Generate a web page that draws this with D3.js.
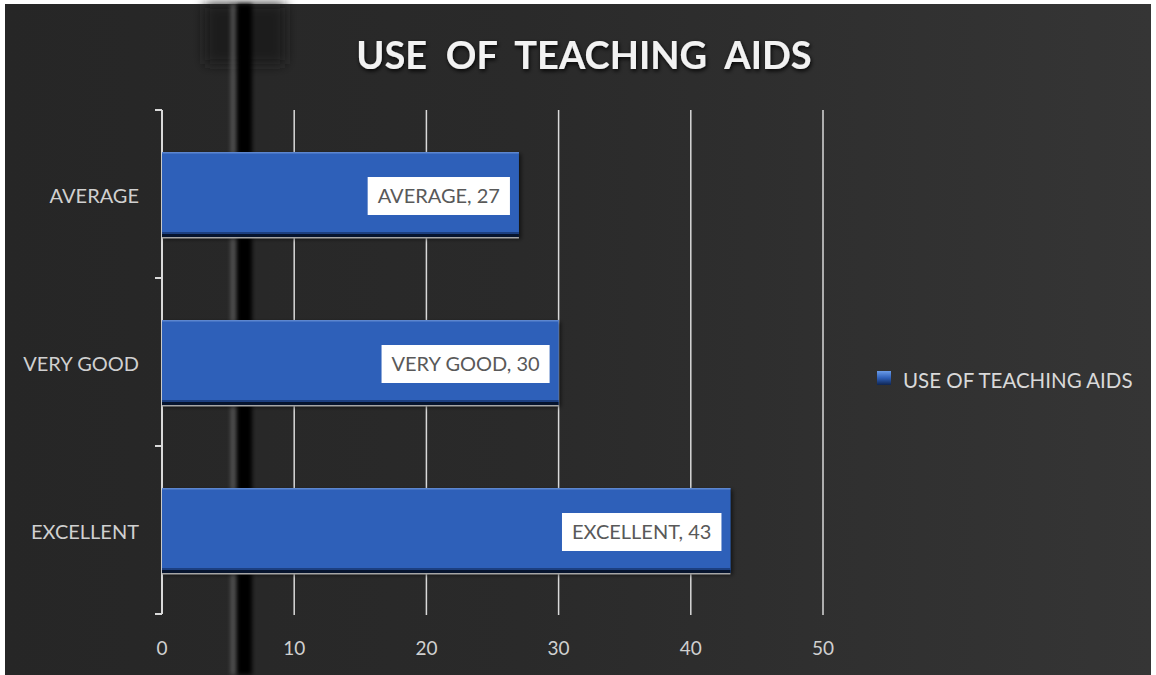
<!DOCTYPE html>
<html>
<head>
<meta charset="utf-8">
<script src="https://cdn.jsdelivr.net/npm/d3@7"></script>
<style>
  body { margin: 0; background: #fff; }
  svg { display: block; }
  text { font-family: Lato, "Open Sans", sans-serif; }
</style>
</head>
<body>
<svg width="1156" height="675"></svg>
<script>
var categories = ['AVERAGE', 'VERY GOOD', 'EXCELLENT'];
var values = [27, 30, 43];
var xTicks = [0, 10, 20, 30, 40, 50];
var seriesName = 'USE OF TEACHING AIDS';
var title = 'USE  OF  TEACHING  AIDS';

var svg = d3.select('svg');
var defs = svg.append('defs');

// background gradient, darker on the left
var bg = defs.append('linearGradient').attr('id', 'bg').attr('x1', 0).attr('x2', 1).attr('y1', 0).attr('y2', 0);
bg.append('stop').attr('offset', 0).attr('stop-color', '#262626');
bg.append('stop').attr('offset', 0.45).attr('stop-color', '#2a2a2a');
bg.append('stop').attr('offset', 1).attr('stop-color', '#353535');

var leg = defs.append('linearGradient').attr('id', 'leg').attr('x1', 0).attr('x2', 0).attr('y1', 0).attr('y2', 1);
leg.append('stop').attr('offset', 0).attr('stop-color', '#6a9be8');
leg.append('stop').attr('offset', 0.5).attr('stop-color', '#2e5fb8');
leg.append('stop').attr('offset', 1).attr('stop-color', '#0f2550');

var blur = defs.append('filter').attr('id', 'blur').attr('x', -1).attr('width', 3);
blur.append('feGaussianBlur').attr('stdDeviation', 2);
var blur2 = defs.append('filter').attr('id', 'blur2').attr('x', -1).attr('y', -1).attr('width', 3).attr('height', 3);
blur2.append('feGaussianBlur').attr('stdDeviation', 6);

var shadow = defs.append('filter').attr('id', 'shadow').attr('x', -0.1).attr('y', -0.3).attr('width', 1.2).attr('height', 1.8);
shadow.append('feDropShadow').attr('dx', 2).attr('dy', 2).attr('stdDeviation', 2).attr('flood-color', '#000').attr('flood-opacity', 0.6);

var tshadow = defs.append('filter').attr('id', 'tshadow').attr('x', -0.1).attr('y', -0.3).attr('width', 1.2).attr('height', 1.8);
tshadow.append('feDropShadow').attr('dx', 1).attr('dy', 2).attr('stdDeviation', 2).attr('flood-color', '#000').attr('flood-opacity', 0.9);

svg.append('rect').attr('x', 5).attr('y', 4).attr('width', 1146).attr('height', 671).attr('fill', 'url(#bg)');

// dark vertical stripe of the background picture
svg.append('rect').attr('x', 205).attr('y', 4).attr('width', 80).attr('height', 60).attr('fill', '#1a1a1a').attr('filter', 'url(#blur2)');
svg.append('rect').attr('x', 237).attr('y', 4).attr('width', 15).attr('height', 671).attr('fill', '#000').attr('filter', 'url(#blur)');
svg.append('rect').attr('x', 231).attr('y', 4).attr('width', 4).attr('height', 671).attr('fill', '#5a5a5a').attr('filter', 'url(#blur)');

var x = d3.scaleLinear().domain([0, 50]).range([162, 823]);
var y = d3.scaleBand().domain(categories).range([110, 614]).paddingInner(0.5).paddingOuter(0.25);

// title
svg.append('text')
  .attr('x', 584).attr('y', 69)
  .attr('text-anchor', 'middle')
  .attr('font-size', 38).attr('font-weight', 'bold')
  .attr('fill', '#f2f2f2')
  .attr('filter', 'url(#tshadow)')
  .style('white-space', 'pre')
  .text(title);

// vertical grid lines
svg.append('g').selectAll('line').data(xTicks.slice(1)).enter().append('line')
  .attr('x1', d => x(d)).attr('x2', d => x(d))
  .attr('y1', 110).attr('y2', 615)
  .attr('stroke', '#d9d9d9').attr('stroke-width', 1.5);

// x tick labels
svg.append('g').selectAll('text').data(xTicks).enter().append('text')
  .attr('x', d => x(d)).attr('y', 655)
  .attr('text-anchor', 'middle')
  .attr('font-size', 19).attr('fill', '#d0d0d0')
  .text(d => d);

// category axis
var yAxis = svg.append('g');
yAxis.append('line').attr('x1', x(0)).attr('x2', x(0)).attr('y1', 110).attr('y2', 614)
  .attr('stroke', '#d9d9d9').attr('stroke-width', 2);
var bounds = categories.map(c => y(c) - y.step() * y.paddingInner() / 2);
bounds.push(y.range()[1]);
yAxis.selectAll('line.tk').data(bounds).enter().append('line').attr('class', 'tk')
  .attr('x1', x(0) - 7).attr('x2', x(0))
  .attr('y1', d => d).attr('y2', d => d)
  .attr('stroke', '#d9d9d9').attr('stroke-width', 2);
yAxis.selectAll('text').data(categories).enter().append('text')
  .attr('x', 139).attr('y', d => y(d) + y.bandwidth() / 2 + 9)
  .attr('text-anchor', 'end')
  .attr('font-size', 20).attr('fill', '#d0d0d0')
  .text(d => d);

// bars
var bars = svg.append('g').selectAll('g').data(categories).enter().append('g');
bars.append('rect')
  .attr('x', x(0)).attr('y', d => y(d))
  .attr('width', (d, i) => x(values[i]) - x(0))
  .attr('height', y.bandwidth() + 1)
  .attr('fill', '#2e60b9')
  .attr('filter', 'url(#shadow)');
bars.append('rect')
  .attr('x', x(0)).attr('y', d => y(d))
  .attr('width', (d, i) => x(values[i]) - x(0))
  .attr('height', 1.5).attr('fill', '#5c86cf');
bars.append('rect')
  .attr('x', x(0)).attr('y', d => y(d) + y.bandwidth() - 4)
  .attr('width', (d, i) => x(values[i]) - x(0))
  .attr('height', 2).attr('fill', '#1c3f80');
bars.append('rect')
  .attr('x', x(0)).attr('y', d => y(d) + y.bandwidth() - 2)
  .attr('width', (d, i) => x(values[i]) - x(0))
  .attr('height', 3).attr('fill', '#06142e');
bars.append('rect')
  .attr('x', x(0)).attr('y', d => y(d) + y.bandwidth() + 1)
  .attr('width', (d, i) => x(values[i]) - x(0))
  .attr('height', 1.5).attr('fill', '#a6a6a6');

// data labels
bars.each(function (d, i) {
  var g = d3.select(this);
  var t = g.append('text')
    .attr('x', x(values[i]) - 19)
    .attr('y', y(d) + y.bandwidth() / 2 + 8.5)
    .attr('text-anchor', 'end')
    .attr('font-size', 20).attr('fill', '#595959')
    .text(d + ', ' + values[i]);
  var w = t.node().getComputedTextLength();
  g.insert('rect', 'text')
    .attr('x', x(values[i]) - 9 - w - 20)
    .attr('y', y(d) + y.bandwidth() / 2 - 17)
    .attr('width', w + 20).attr('height', 38)
    .attr('fill', '#fff');
});

// legend
svg.append('rect').attr('x', 877).attr('y', 371).attr('width', 14).attr('height', 14).attr('fill', 'url(#leg)');
svg.append('text').attr('x', 903).attr('y', 388)
  .attr('font-size', 20.5).attr('fill', '#d9d9d9')
  .text(seriesName);
</script>
</body>
</html>
